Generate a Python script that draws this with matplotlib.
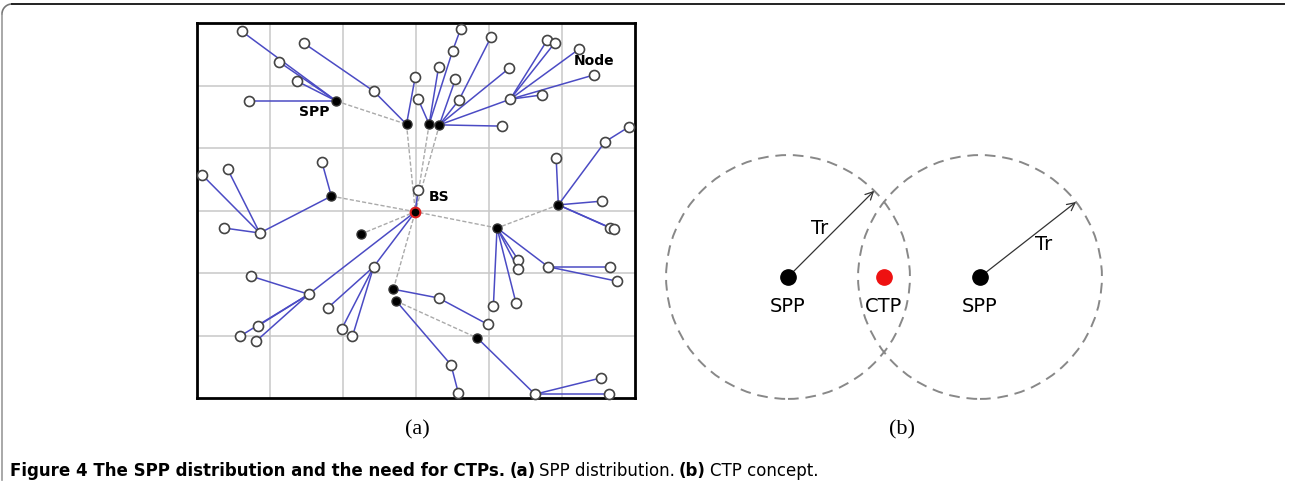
import matplotlib.pyplot as plt
import numpy as np
from matplotlib.patches import Circle

# (a) sensor nodes, grid units (field is 6 x 6 cells)
node_x = [0.61, 1.46, 1.12, 1.37, 0.71, 2.42, 2.99, 3.03, 3.61, 3.50,
          3.31, 3.54, 4.03, 3.59, 4.28, 4.29, 4.80, 4.90, 5.23, 5.44,
          4.73, 4.18, 5.92, 5.59, 4.92, 5.55, 5.66, 5.71, 3.03, 1.71,
          0.42, 0.07, 0.37, 0.86, 2.42, 0.74, 1.53, 1.79, 0.83, 0.59,
          0.81, 1.98, 2.13, 4.40, 4.40, 4.81, 5.66, 5.75, 4.06, 4.37,
          3.31, 3.98, 3.48, 3.58, 4.63, 5.53, 5.64]
node_y = [5.87, 5.68, 5.38, 5.07, 4.75, 4.91, 5.14, 4.78, 5.90, 5.55,
          5.30, 5.10, 5.78, 4.77, 5.28, 4.78, 5.73, 5.68, 5.58, 5.17,
          4.85, 4.35, 4.34, 4.10, 3.84, 3.15, 2.72, 2.70, 3.33, 3.78,
          3.66, 3.57, 2.72, 2.64, 2.10, 1.95, 1.66, 1.44, 1.15, 0.99,
          0.91, 1.10, 0.99, 2.21, 2.06, 2.10, 2.10, 1.87, 1.47, 1.52,
          1.60, 1.18, 0.53, 0.08, 0.06, 0.32, 0.06]

# SPPs and base station
spp_x = [1.91, 2.87, 3.18, 3.32, 1.84, 2.24, 4.95, 4.11, 2.69, 2.73, 3.84]
spp_y = [4.75, 4.38, 4.38, 4.37, 3.23, 2.62, 3.09, 2.72, 1.74, 1.55, 0.96]
bs_x, bs_y = 2.99, 2.98

# node-to-node / node-to-SPP links (blue)
blue_links = [("n1", "s1"), ("n3", "s1"), ("n4", "s1"), ("n5", "s1"),
              ("n2", "n6"), ("n6", "s2"), ("n7", "s2"),
              ("n9", "n10"), ("n10", "s3"), ("n11", "s3"), ("n8", "s3"),
              ("n12", "s4"), ("n13", "n14"), ("n14", "s4"), ("n15", "s4"),
              ("n16", "s4"), ("n22", "s4"),
              ("n16", "n17"), ("n16", "n18"), ("n16", "n19"), ("n16", "n20"), ("n16", "n21"),
              ("s7", "n25"), ("s7", "n24"), ("n24", "n23"), ("s7", "n26"), ("s7", "n27"), ("s7", "n28"),
              ("s8", "n44"), ("s8", "n45"), ("s8", "n46"), ("s8", "n49"), ("s8", "n50"),
              ("n46", "n47"), ("n46", "n48"),
              ("bs", "n29"), ("bs", "n35"), ("bs", "n37"),
              ("n35", "n38"), ("n35", "n42"), ("n35", "n43"),
              ("n37", "n36"), ("n37", "n39"), ("n37", "n40"), ("n37", "n41"),
              ("s5", "n30"), ("s5", "n34"), ("n34", "n33"), ("n34", "n31"), ("n34", "n32"),
              ("s9", "n51"), ("n51", "n52"), ("s10", "n53"), ("n53", "n54"),
              ("s11", "n55"), ("n55", "n56"), ("n55", "n57")]

# SPP-to-SPP / SPP-to-BS links (gray)
gray_links = [("s1", "s2"), ("s2", "bs"), ("s3", "bs"), ("s4", "bs"), ("s5", "bs"),
              ("s6", "bs"), ("s8", "bs"), ("s7", "s8"), ("s9", "bs"), ("s10", "s11")]

# (b) CTP concept, in units of half the SPP spacing
spp_b_x = [0.0, 2.0]
ctp_x = 1.0
tr_radius = 1.27
tr_angle = [45, 38]

pts = {"bs": (bs_x, bs_y)}
for i in range(len(node_x)):
    pts["n%d" % (i + 1)] = (node_x[i], node_y[i])
for i in range(len(spp_x)):
    pts["s%d" % (i + 1)] = (spp_x[i], spp_y[i])

W, H = 1292, 497
fig = plt.figure(figsize=(W / 100, H / 100), dpi=100)

# frame around the whole figure
bg = fig.add_axes([0, 0, 1, 1])
bg.set_xlim(0, W)
bg.set_ylim(H, 0)
bg.axis("off")
t = np.linspace(np.pi, 1.5 * np.pi, 20)
bg.plot(12 + 10 * np.cos(t), 14 + 10 * np.sin(t), color="#777777", lw=1.2)
bg.plot([2, 2], [14, 480], color="#999999", lw=1.2)
bg.plot([12, 1284], [4, 4], color="#222222", lw=1.4)

# ---- panel (a)
ax = fig.add_axes([197 / W, (H - 398) / H, 438 / W, 375 / H])
ax.set_xlim(0, 6)
ax.set_ylim(0, 6)
ax.set_xticks(range(1, 6))
ax.set_yticks(range(1, 6))
ax.tick_params(length=0, labelbottom=False, labelleft=False)
ax.grid(color="#c8c8c8", lw=1.1)
for s in ax.spines.values():
    s.set_linewidth(2)
    s.set_color("black")

for a, b in gray_links:
    ax.plot([pts[a][0], pts[b][0]], [pts[a][1], pts[b][1]], color="#aaaaaa",
            lw=1.0, ls=(0, (3, 1.5)), zorder=3)
for a, b in blue_links:
    ax.plot([pts[a][0], pts[b][0]], [pts[a][1], pts[b][1]], color="#4b4bc4",
            lw=1.1, zorder=4)

ax.plot(node_x, node_y, "o", ms=7.2, mfc="white", mec="#444444", mew=1.2,
        ls="none", zorder=5, clip_on=False)
ax.plot(spp_x, spp_y, "o", ms=6.5, mfc="black", mec="#333333", ls="none", zorder=6)
ax.plot([bs_x], [bs_y], "o", ms=7, mfc="black", mec="#e02020", mew=1.5, zorder=7)

ax.text(1.61, 4.58, "SPP", fontsize=10, fontweight="bold", ha="center", va="center", zorder=8)
ax.text(5.44, 5.39, "Node", fontsize=10, fontweight="bold", ha="center", va="center", zorder=8)
ax.text(3.32, 3.22, "BS", fontsize=10, fontweight="bold", ha="center", va="center", zorder=8)

# ---- panel (b)
scale = 96.0
bx0, bx1, by0, by1 = 650, 1120, 145, 410
axb = fig.add_axes([bx0 / W, (H - by1) / H, (bx1 - bx0) / W, (by1 - by0) / H])
axb.set_xlim((bx0 - 788) / scale, (bx1 - 788) / scale)
axb.set_ylim(-(by1 - 277) / scale, (277 - by0) / scale)
axb.axis("off")

for k, cx in enumerate(spp_b_x):
    axb.add_patch(Circle((cx, 0), tr_radius, fill=False, ec="#888888", lw=1.4,
                         ls=(0, (5.5, 3.5)), clip_on=False))
    ang = np.radians(tr_angle[k])
    axb.annotate("", xy=(cx + tr_radius * np.cos(ang), tr_radius * np.sin(ang)),
                 xytext=(cx, 0),
                 arrowprops=dict(arrowstyle="->", color="#333333", lw=0.9,
                                 shrinkA=0, shrinkB=0, mutation_scale=14))
    axb.plot(cx, 0, "o", ms=11, color="black", zorder=5)
    axb.text(cx, -0.31, "SPP", fontsize=14, ha="center", va="center")
axb.plot(ctp_x, 0, "o", ms=11, color="#ee1111", zorder=5)
axb.text(ctp_x, -0.31, "CTP", fontsize=14, ha="center", va="center")
axb.text(0.33, 0.51, "Tr", fontsize=14, ha="center", va="center")
axb.text(2.66, 0.34, "Tr", fontsize=14, ha="center", va="center")

fig.text(417 / W, 1 - 430 / H, "(a)", family="Liberation Serif", fontsize=16,
         ha="center", va="center")
fig.text(902 / W, 1 - 430 / H, "(b)", family="Liberation Serif", fontsize=16,
         ha="center", va="center")

# caption, built from pieces
cap = [("Figure 4 The SPP distribution and the need for CTPs.", "bold"),
       ("(a)", "bold"), ("SPP distribution.", "normal"),
       ("(b)", "bold"), ("CTP concept.", "normal")]
r = fig.canvas.get_renderer()
x = 10.0
for txt, wgt in cap:
    tt = fig.text(x / W, 1 - 471 / H, txt, family="DejaVu Sans", fontsize=12,
                  fontweight=wgt, ha="left", va="center")
    x += tt.get_window_extent(r).width + 4

fig.savefig("out.png", dpi=100)
